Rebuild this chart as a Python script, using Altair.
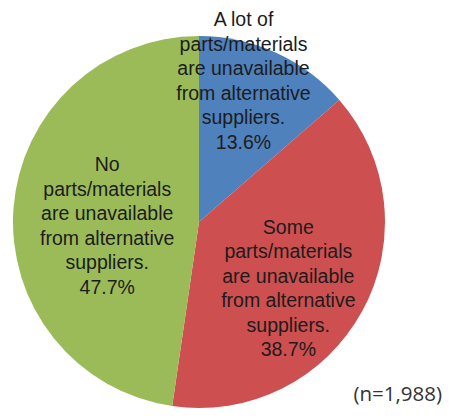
import altair as alt
import pandas as pd

categories = [
    "A lot of\nparts/materials\nare unavailable\nfrom alternative\nsuppliers.",
    "Some\nparts/materials\nare unavailable\nfrom alternative\nsuppliers.",
    "No\nparts/materials\nare unavailable\nfrom alternative\nsuppliers.",
]
keys = ["a_lot", "some", "none"]
values = [13.6, 38.7, 47.7]
colors = ["#4F81BD", "#CD4F4F", "#9BBB59"]
note = "(n=1,988)"

df = pd.DataFrame({
    "key": keys,
    "category": categories,
    "value": values,
    "idx": list(range(len(keys))),
})
df["label"] = [f"{c}\n{v:.1f}%" for c, v in zip(categories, values)]

base = alt.Chart(df)

theta_scale = alt.Scale(domain=[0, sum(values)])

arc = base.mark_arc(stroke=None).encode(
    theta=alt.Theta("value:Q", stack=True, scale=theta_scale),
    color=alt.Color("key:N", scale=alt.Scale(domain=keys, range=colors), legend=None),
    order=alt.Order("idx:Q"),
)

def label_layer(key, radius, dx, dy):
    return base.transform_window(
        cum="sum(value)", sort=[alt.SortField("idx")]
    ).transform_calculate(
        mid="datum.cum - datum.value / 2"
    ).transform_filter(
        alt.datum.key == key
    ).mark_text(
        lineBreak="\n", align="center", baseline="middle",
        font="Liberation Sans", fontSize=19.5, lineHeight=24.5,
        color="#1c1c1c", radius=radius, dx=dx, dy=dy,
    ).encode(
        theta=alt.Theta("mid:Q", stack=None, scale=theta_scale),
        text="label:N",
    )

labels = [
    label_layer("a_lot", 146, -16, -69),
    label_layer("some", 112, -9, -48),
    label_layer("none", 92, 0, -50),
]

note_layer = alt.Chart(pd.DataFrame({"t": [note]})).mark_text(
    align="right", baseline="middle", font="Open Sans", fontSize=20.5, color="#333333",
).encode(
    x=alt.value(429), y=alt.value(359), text="t:N",
)

chart = alt.layer(arc, *labels, note_layer).properties(
    width=372, height=372,
    padding={"left": 5, "top": 28, "right": 61, "bottom": 1},
    autosize=alt.AutoSizeParams(type="none"),
).configure_view(stroke=None)

chart.save("out.html", embed_options={"renderer": "svg", "actions": False})
